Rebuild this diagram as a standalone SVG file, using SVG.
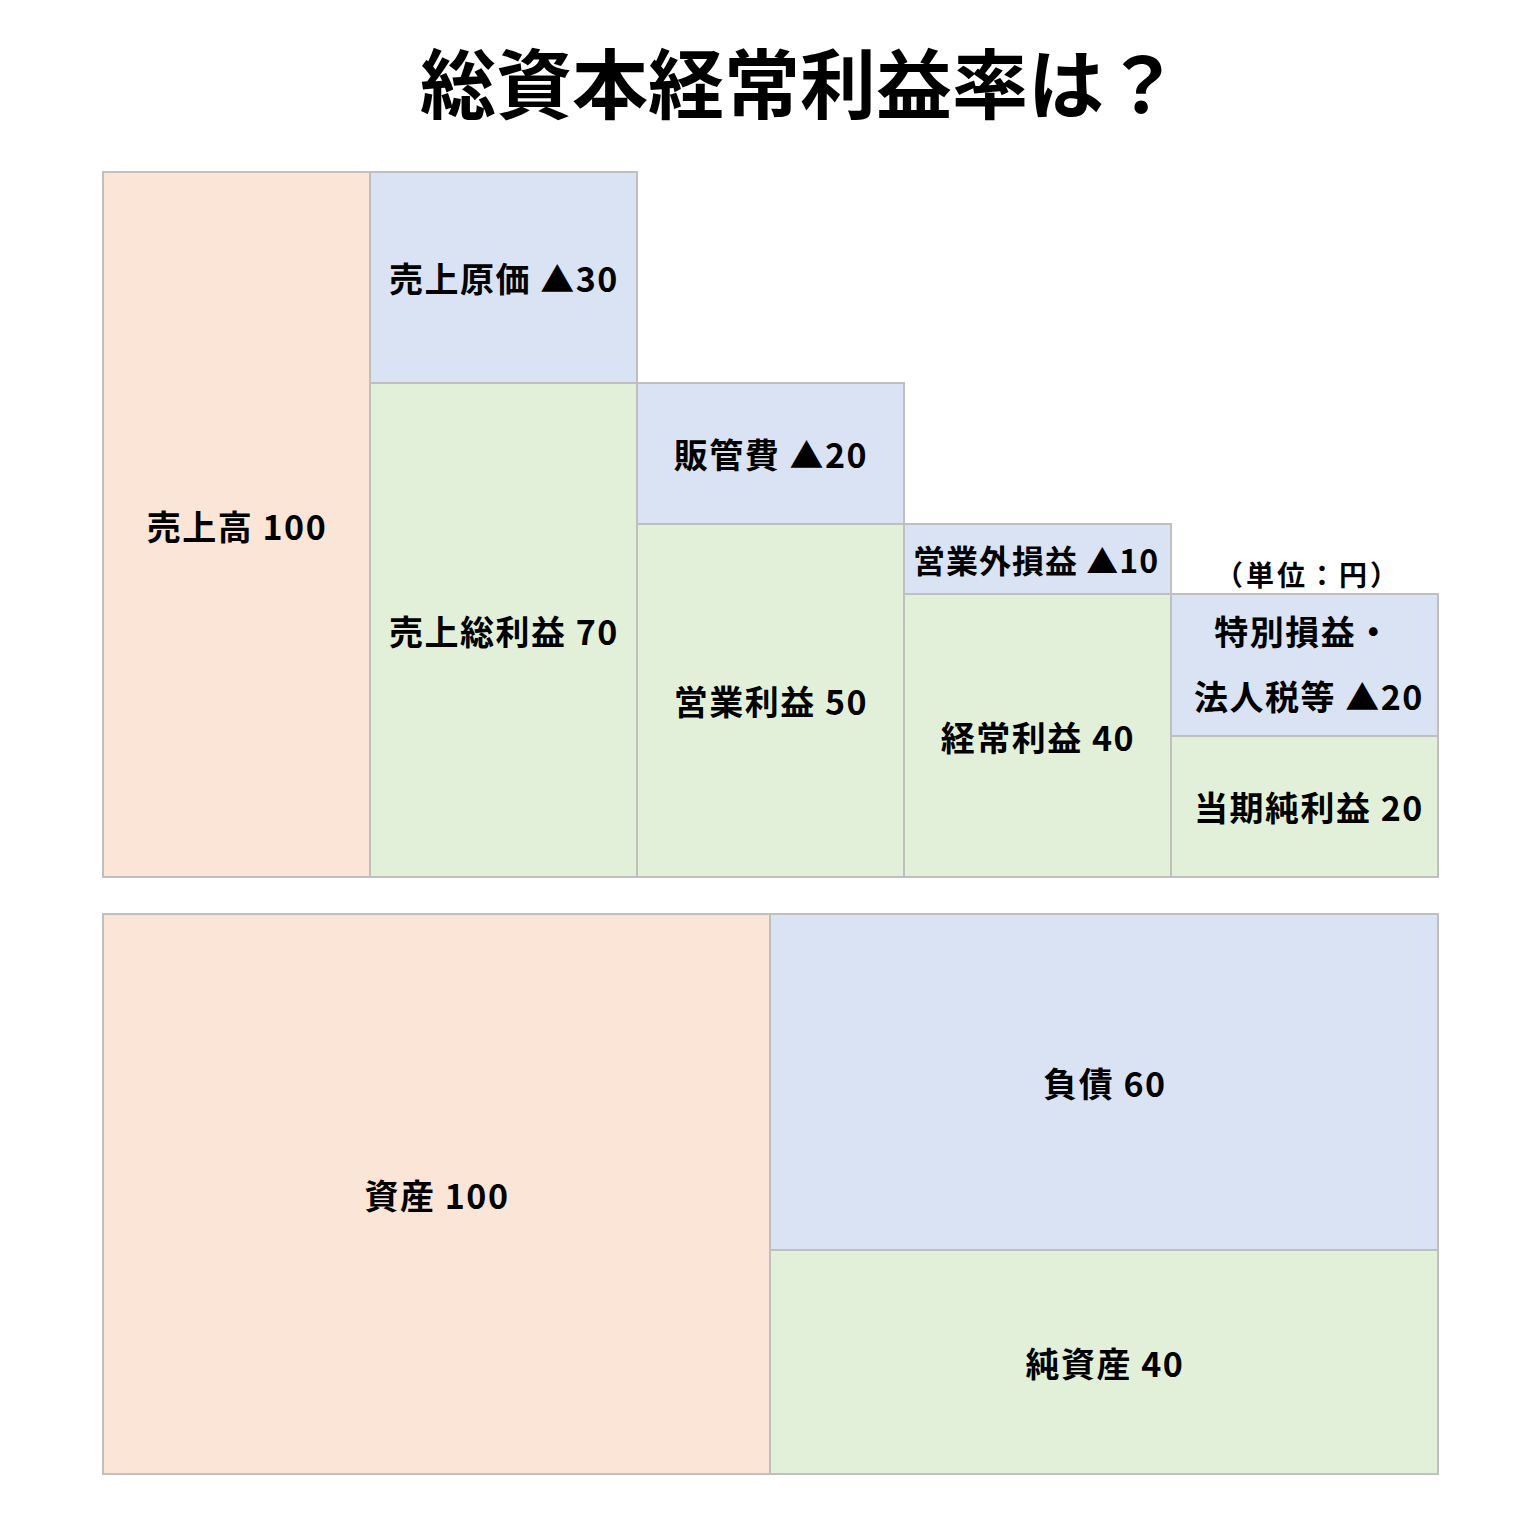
<svg xmlns="http://www.w3.org/2000/svg" width="1539" height="1523" viewBox="0 0 1539 1523">
<style>
text{font-family:"Noto Sans CJK JP","Noto Sans",sans-serif;font-weight:bold;fill:#000;text-anchor:middle;dominant-baseline:central}
.t{font-size:34px;letter-spacing:1.5px}
.title{font-size:76px}
.u{font-size:28px;letter-spacing:3px}
.pe{fill:#FBE5D6;stroke:#BFBFBF;stroke-width:2}
.bl{fill:#DAE3F3;stroke:#BFBFBF;stroke-width:2}
.gr{fill:#E2F0D9;stroke:#BFBFBF;stroke-width:2}
</style>
<rect width="1539" height="1523" fill="#fff"/>
<text class="title" x="800" y="80">総資本経常利益率は？</text>
<g id="uriage"><rect class="pe" x="103" y="172" width="267" height="705"/><text class="t" x="237" y="525">売上高 100</text></g>
<g id="genka"><rect class="bl" x="370" y="172" width="267" height="211"/><text class="t" x="504" y="277">売上原価 ▲30</text></g>
<g id="arari"><rect class="gr" x="370" y="383" width="267" height="494"/><text class="t" x="504" y="630">売上総利益 70</text></g>
<g id="hankan"><rect class="bl" x="637" y="383" width="267" height="141"/><text class="t" x="771" y="453">販管費 ▲20</text></g>
<g id="eigyo"><rect class="gr" x="637" y="524" width="267" height="353"/><text class="t" x="771" y="700">営業利益 50</text></g>
<g id="eigyogai"><rect class="bl" x="904" y="524" width="267" height="70"/><text class="t" x="1036" y="559" style="font-size:32px;letter-spacing:1px">営業外損益 ▲10</text></g>
<g id="keijo"><rect class="gr" x="904" y="594" width="267" height="283"/><text class="t" x="1038" y="736">経常利益 40</text></g>
<g id="unit"><text class="u" x="1308" y="574">（単位：円）</text></g>
<g id="tokubetsu"><rect class="bl" x="1171" y="594" width="267" height="142"/><text class="t" x="1303" y="630">特別損益・</text><text class="t" x="1309" y="695">法人税等 ▲20</text></g>
<g id="junrieki"><rect class="gr" x="1171" y="736" width="267" height="141"/><text class="t" x="1309" y="806">当期純利益 20</text></g>
<g id="shisan"><rect class="pe" x="103" y="914" width="667" height="560"/><text class="t" x="437" y="1194">資産 100</text></g>
<g id="fusai"><rect class="bl" x="770" y="914" width="668" height="336"/><text class="t" x="1105" y="1082">負債 60</text></g>
<g id="junshisan"><rect class="gr" x="770" y="1250" width="668" height="224"/><text class="t" x="1105" y="1362">純資産 40</text></g>
<g id="connectors"></g>
</svg>
